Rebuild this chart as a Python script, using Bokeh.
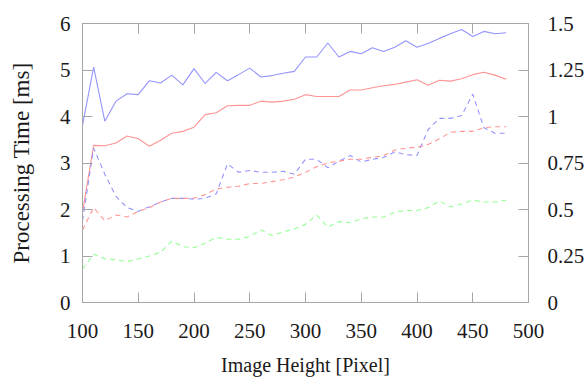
from bokeh.plotting import figure
from bokeh.models import Range1d, LinearAxis, FixedTicker
from bokeh.embed import file_html
from bokeh.resources import INLINE

x = [100, 110, 120, 130, 140, 150, 160, 170, 180, 190, 200, 210, 220, 230, 240,
     250, 260, 270, 280, 290, 300, 310, 320, 330, 340, 350, 360, 370, 380, 390,
     400, 410, 420, 430, 440, 450, 460, 470, 480]

# left axis (ms)
blue_solid = [3.81, 5.06, 3.90, 4.33, 4.49, 4.47, 4.77, 4.72, 4.89, 4.68, 5.03, 4.71, 4.95, 4.77, 4.90,
              5.04, 4.85, 4.88, 4.93, 4.97, 5.28, 5.28, 5.58, 5.28, 5.40, 5.35, 5.48, 5.40, 5.49, 5.63,
              5.49, 5.57, 5.68, 5.78, 5.87, 5.72, 5.83, 5.78, 5.80]
red_solid = [1.94, 3.38, 3.37, 3.43, 3.58, 3.52, 3.36, 3.49, 3.64, 3.68, 3.77, 4.04, 4.08, 4.23, 4.24,
             4.24, 4.33, 4.31, 4.33, 4.37, 4.47, 4.43, 4.43, 4.43, 4.57, 4.57, 4.62, 4.66, 4.69, 4.74,
             4.79, 4.67, 4.78, 4.76, 4.81, 4.90, 4.95, 4.89, 4.80]

# right axis
blue_dashed = [0.44, 0.83, 0.69, 0.57, 0.51, 0.49, 0.515, 0.54, 0.56, 0.56, 0.555, 0.56, 0.585, 0.745, 0.70,
               0.71, 0.70, 0.70, 0.705, 0.69, 0.77, 0.77, 0.725, 0.76, 0.79, 0.755, 0.77, 0.78, 0.81, 0.795,
               0.79, 0.93, 0.99, 0.99, 1.005, 1.12, 0.94, 0.91, 0.91]
red_dashed = [0.39, 0.51, 0.44, 0.47, 0.46, 0.49, 0.51, 0.54, 0.56, 0.56, 0.56, 0.58, 0.61, 0.62, 0.625,
              0.64, 0.64, 0.65, 0.66, 0.675, 0.70, 0.73, 0.75, 0.76, 0.77, 0.77, 0.78, 0.79, 0.82, 0.83,
              0.835, 0.85, 0.88, 0.915, 0.92, 0.92, 0.94, 0.945, 0.945]
green_dashed = [0.18, 0.26, 0.235, 0.23, 0.22, 0.235, 0.25, 0.27, 0.33, 0.30, 0.295, 0.32, 0.35, 0.34, 0.34,
                0.355, 0.39, 0.36, 0.38, 0.395, 0.42, 0.47, 0.405, 0.435, 0.43, 0.45, 0.46, 0.46, 0.485, 0.495,
                0.495, 0.51, 0.545, 0.515, 0.53, 0.55, 0.54, 0.54, 0.55]

x_ticks = [100, 150, 200, 250, 300, 350, 400, 450, 500]
left_ticks = [0, 1, 2, 3, 4, 5, 6]
right_ticks = [0, 0.25, 0.5, 0.75, 1, 1.25, 1.5]
right_labels = ["0", "0.25", "0.5", "0.75", "1", "1.25", "1.5"]

FONT = "Liberation Serif"
AX = "#a6a6a6"
BLUE = "#9494ff"
RED = "#ff9494"
GREEN = "#94ff94"

p = figure(width=587, height=378, output_backend="svg", toolbar_location=None,
           x_range=Range1d(100, 500), y_range=Range1d(0, 6),
           min_border_left=82, min_border_right=59, min_border_top=23, min_border_bottom=76)
p.extra_y_ranges = {"right": Range1d(0, 1.5)}
p.grid.visible = False
p.outline_line_color = AX
p.background_fill_color = "white"
p.border_fill_color = "white"

p.line(x, blue_solid, line_color=BLUE, line_width=1.1)
p.line(x, red_solid, line_color=RED, line_width=1.1)
p.line(x, blue_dashed, line_color=BLUE, line_width=1.1, line_dash="5 4", y_range_name="right")
p.line(x, red_dashed, line_color=RED, line_width=1.1, line_dash="5 4", y_range_name="right")
p.line(x, green_dashed, line_color=GREEN, line_width=1.1, line_dash="5 4", y_range_name="right")

def style(ax):
    ax.axis_line_color = AX
    ax.major_tick_line_color = AX
    ax.major_tick_in = 10
    ax.major_tick_out = 0
    ax.minor_tick_line_color = None
    ax.major_label_text_font = FONT
    ax.major_label_text_font_size = "21px"
    ax.major_label_text_color = "#1a1a1a"
    ax.axis_label_text_font = FONT
    ax.axis_label_text_font_size = "20px"
    ax.axis_label_text_font_style = "normal"
    ax.axis_label_text_color = "#1a1a1a"

xa = p.xaxis[0]
style(xa)
xa.ticker = FixedTicker(ticks=x_ticks)
xa.axis_label = "Image Height [Pixel]"
xa.major_label_standoff = 21
xa.axis_label_standoff = 13

ya = p.yaxis[0]
style(ya)
ya.ticker = FixedTicker(ticks=left_ticks)
ya.axis_label = "Processing Time [ms]"
ya.axis_label_text_font_size = "23px"
ya.major_label_standoff = 12
ya.axis_label_standoff = 23

ra = LinearAxis(y_range_name="right", ticker=FixedTicker(ticks=right_ticks))
style(ra)
ra.major_label_overrides = {t: l for t, l in zip(right_ticks, right_labels)}
ra.major_label_standoff = 19
p.add_layout(ra, "right")

ta = LinearAxis(ticker=FixedTicker(ticks=x_ticks))
style(ta)
ta.major_label_text_font_size = "1px"
ta.major_label_text_alpha = 0
ta.major_label_standoff = 0
p.add_layout(ta, "above")

open("out.html", "w").write(file_html(p, INLINE))
